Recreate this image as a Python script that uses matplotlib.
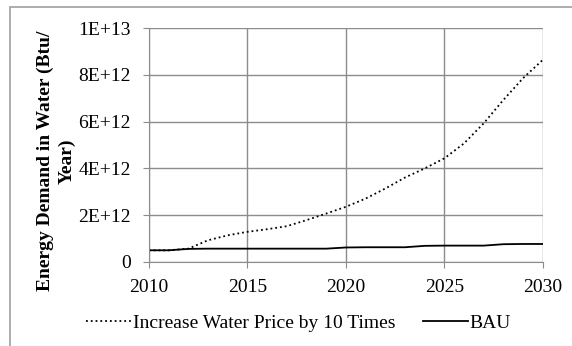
#!/usr/bin/env python

import matplotlib
matplotlib.use('Agg')
import matplotlib.pyplot as plt
from matplotlib.patches import Rectangle

years = list(range(2010, 2031))

# Btu / Year
price_x10 = [0.50e12, 0.50e12, 0.57e12, 0.93e12, 1.14e12, 1.29e12, 1.40e12,
             1.53e12, 1.79e12, 2.07e12, 2.36e12, 2.71e12, 3.14e12, 3.61e12,
             4.00e12, 4.43e12, 5.07e12, 5.93e12, 6.93e12, 7.86e12, 8.64e12]
bau = [0.50e12, 0.50e12, 0.56e12, 0.57e12, 0.57e12, 0.57e12, 0.57e12,
       0.57e12, 0.57e12, 0.57e12, 0.62e12, 0.63e12, 0.63e12, 0.63e12,
       0.69e12, 0.70e12, 0.70e12, 0.70e12, 0.76e12, 0.77e12, 0.77e12]

xticks = [2010, 2015, 2020, 2025, 2030]
yticks = [0, 2e12, 4e12, 6e12, 8e12, 1e13]
ylabels = ['0', '2E+12', '4E+12', '6E+12', '8E+12', '1E+13']

plt.rcParams['font.family'] = 'Liberation Serif'
plt.rcParams['font.size'] = 14

fig = plt.figure(figsize=(5.72, 3.46), dpi=100)
ax = fig.add_axes([0.2605, 0.2428, 0.949 - 0.2605, 0.919 - 0.2428])

ax.plot(years, price_x10, ':', color='black', lw=1.3, label='Increase Water Price by 10 Times')
ax.plot(years, bau, '-', color='black', lw=1.3, label='BAU')

ax.set_xlim(2010, 2030)
ax.set_ylim(0, 1e13)
ax.set_xticks(xticks)
ax.set_yticks(yticks)
ax.set_yticklabels(ylabels)
ax.grid(True, color='#8c8c8c', lw=1.0)
ax.set_axisbelow(True)
for s in ['top', 'right']:
  ax.spines[s].set_visible(False)
for s in ['left', 'bottom']:
  ax.spines[s].set_color('#8c8c8c')
ax.tick_params(axis='x', length=4, color='#8c8c8c', pad=8)
ax.tick_params(axis='y', length=4, color='#8c8c8c', pad=9)

fig.text(56 / 572., 1 - 161 / 346., 'Energy Demand in Water (Btu/\nYear)',
         rotation=90, ha='center', va='center', fontweight='bold',
         linespacing=1.3, fontsize=14)

fig.legend(loc='center', bbox_to_anchor=(0.522, 1 - 323 / 346.), ncol=2,
           frameon=False, handlelength=2.3, handletextpad=0.1,
           columnspacing=1.4, borderaxespad=0)

fig.patches.append(Rectangle((10 / 572., -0.01), 1.0, 1 - 7 / 346. + 0.01,
                             transform=fig.transFigure, fill=False,
                             edgecolor='#a0a0a0', lw=1.2))

fig.savefig('out.png', dpi=100)
